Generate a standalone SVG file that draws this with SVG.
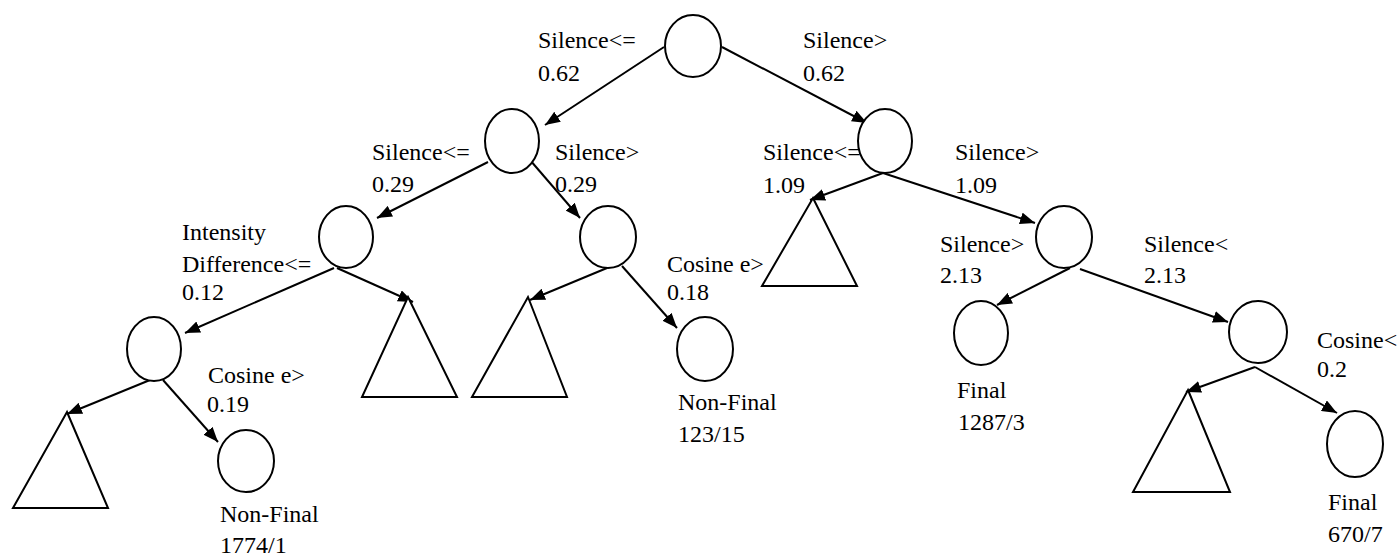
<svg xmlns="http://www.w3.org/2000/svg" width="1397" height="556" viewBox="0 0 1397 556">
<defs>
<marker id="ah" markerUnits="userSpaceOnUse" markerWidth="16" markerHeight="12" refX="15" refY="6" orient="auto">
<path d="M0,0 L15,6 L0,12 Z" fill="#000"/>
</marker>
<style>
.n{fill:#fff;stroke:#000;stroke-width:2}
.e{stroke:#000;stroke-width:2;fill:none;marker-end:url(#ah)}
text{font-family:"Liberation Serif","Times New Roman",serif;font-size:24px;fill:#000}
</style>
</defs>
<rect width="1397" height="556" fill="#fff"/>
<g id="connectors">
<line class="e" x1="664" y1="47" x2="545" y2="125"/>
<line class="e" x1="722" y1="47" x2="867" y2="123"/>
<line class="e" x1="488" y1="162" x2="377" y2="218"/>
<line class="e" x1="530" y1="160" x2="580" y2="218"/>
<line class="e" x1="883" y1="173" x2="810" y2="200"/>
<line class="e" x1="883" y1="173" x2="1035" y2="223"/>
<line class="e" x1="334" y1="268" x2="185" y2="333"/>
<line class="e" x1="337" y1="268" x2="413" y2="302"/>
<line class="e" x1="607" y1="268" x2="530" y2="300"/>
<line class="e" x1="622" y1="266" x2="677" y2="328"/>
<line class="e" x1="1070" y1="268" x2="997" y2="305"/>
<line class="e" x1="1080" y1="269" x2="1228" y2="322"/>
<line class="e" x1="150" y1="380" x2="67" y2="414"/>
<line class="e" x1="163" y1="380" x2="218" y2="442"/>
<line class="e" x1="1255" y1="367" x2="1186" y2="392"/>
<line class="e" x1="1255" y1="367" x2="1337" y2="413"/>
</g>
<g id="root"><ellipse class="n" cx="693" cy="46" rx="28" ry="31"/></g>
<g id="n2l"><ellipse class="n" cx="512" cy="141" rx="27" ry="32"/></g>
<g id="n2r"><ellipse class="n" cx="885" cy="141" rx="27" ry="32"/></g>
<g id="n3a"><ellipse class="n" cx="346" cy="237" rx="27" ry="31"/></g>
<g id="n3b"><ellipse class="n" cx="608" cy="237" rx="28" ry="31"/></g>
<g id="t3c"><polygon class="n" points="813,198 857,286 762,286"/></g>
<g id="n3d"><ellipse class="n" cx="1064" cy="237" rx="28" ry="31"/></g>
<g id="n4a"><ellipse class="n" cx="154" cy="349" rx="27" ry="32"/></g>
<g id="t4b"><polygon class="n" points="408,297 457,397 362,397"/></g>
<g id="t4c"><polygon class="n" points="528,297 567,397 472,397"/></g>
<g id="n4d"><ellipse class="n" cx="705" cy="349" rx="28" ry="32"/></g>
<g id="n4e"><ellipse class="n" cx="981" cy="333" rx="27" ry="32"/></g>
<g id="n4f"><ellipse class="n" cx="1258" cy="332" rx="29" ry="31"/></g>
<g id="t5a"><polygon class="n" points="67,412 108,508 13,508"/></g>
<g id="n5b"><ellipse class="n" cx="246" cy="461" rx="28" ry="31"/></g>
<g id="t5c"><polygon class="n" points="1188,390 1230,492 1133,492"/></g>
<g id="n5d"><ellipse class="n" cx="1355" cy="444" rx="28" ry="33"/></g>
<g id="labels">
<text x="538" y="48">Silence&lt;=</text>
<text x="538" y="81">0.62</text>
<text x="803" y="48">Silence&gt;</text>
<text x="803" y="81">0.62</text>
<text x="372" y="160">Silence&lt;=</text>
<text x="372" y="192">0.29</text>
<text x="555" y="160">Silence&gt;</text>
<text x="555" y="192">0.29</text>
<text x="763" y="160">Silence&lt;=</text>
<text x="763" y="193">1.09</text>
<text x="955" y="160">Silence&gt;</text>
<text x="955" y="193">1.09</text>
<text x="182" y="240">Intensity</text>
<text x="182" y="272">Difference&lt;=</text>
<text x="182" y="300">0.12</text>
<text x="208" y="383">Cosine e&gt;</text>
<text x="207" y="412">0.19</text>
<text x="220" y="522">Non-Final</text>
<text x="220" y="553">1774/1</text>
<text x="667" y="272">Cosine e&gt;</text>
<text x="667" y="300">0.18</text>
<text x="678" y="410">Non-Final</text>
<text x="678" y="442">123/15</text>
<text x="940" y="252">Silence&gt;</text>
<text x="940" y="283">2.13</text>
<text x="1144" y="252">Silence&lt;</text>
<text x="1144" y="283">2.13</text>
<text x="957" y="398">Final</text>
<text x="958" y="430">1287/3</text>
<text x="1317" y="348">Cosine&lt;</text>
<text x="1317" y="377">0.2</text>
<text x="1328" y="510">Final</text>
<text x="1328" y="542">670/7</text>
</g>
</svg>
